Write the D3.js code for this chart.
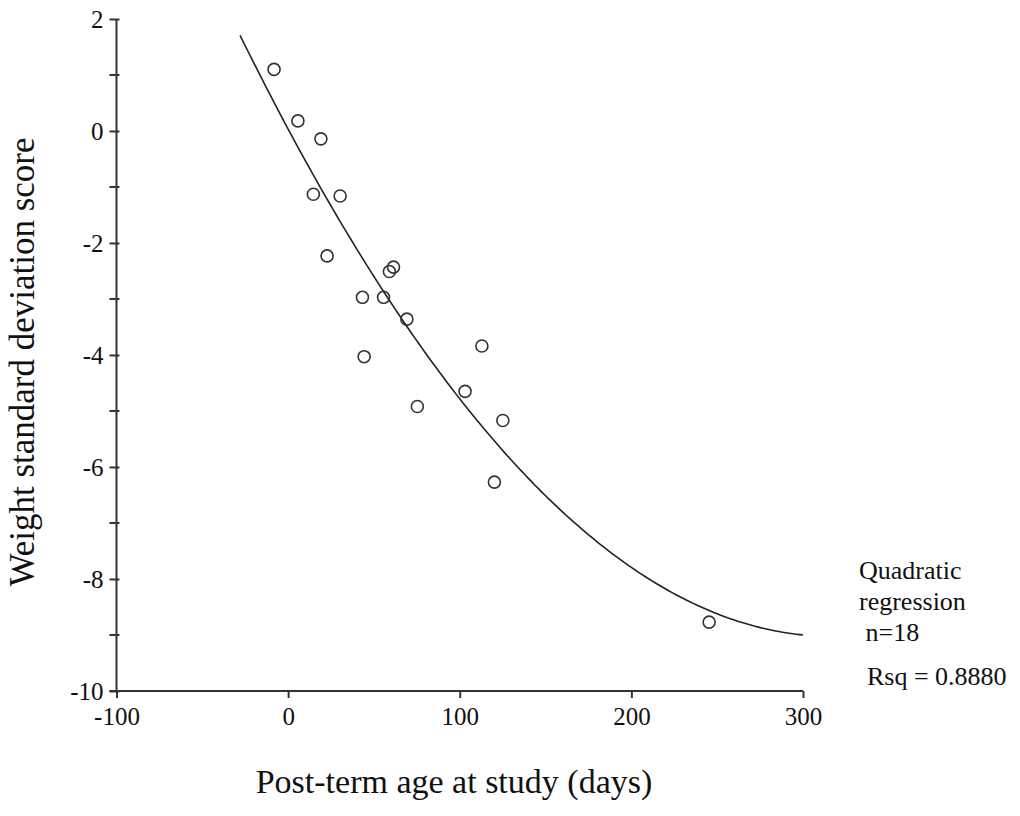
<!DOCTYPE html>
<html>
<head>
<meta charset="utf-8">
<script src="https://cdn.jsdelivr.net/npm/d3@7/dist/d3.min.js"></script>
<style>
  html, body { margin: 0; padding: 0; background: #fff; }
</style>
</head>
<body>
<div id="chart"></div>
<script>
// post-term age (days) and weight SD score
const ageDays = [-8.2, 5.7, 19.1, 14.7, 30.3, 22.7, 59.0, 61.4, 43.3, 55.6, 69.2, 44.3, 75.3, 103.1, 112.9, 125.1, 120.2, 245.3];
const weightSds = [1.10, 0.18, -0.14, -1.13, -1.16, -2.23, -2.51, -2.43, -2.97, -2.97, -3.36, -4.03, -4.92, -4.65, -3.84, -5.17, -6.27, -8.77];

const xTicks = [-100, 0, 100, 200, 300];
const yTicks = [2, 0, -2, -4, -6, -8, -10];
const yMinorTicks = [1, -1, -3, -5, -7, -9];

const curveRange = [-28, 300];
const noteLines = ['Quadratic', 'regression', ' n=18'];
const rsqLabel = 'Rsq = 0.8880';

const width = 1020, height = 816;
const margin = { top: 19, right: 217, bottom: 125, left: 116.5 };
const serif = '"Liberation Serif", "Times New Roman", Times, serif';

const svg = d3.select('#chart').append('svg')
  .attr('width', width)
  .attr('height', height)
  .style('font-family', serif);

const x = d3.scaleLinear().domain([-100, 300]).range([margin.left, width - margin.right]);
const y = d3.scaleLinear().domain([-10, 2]).range([height - margin.bottom, margin.top]);

// least squares quadratic fit of the points
function quadFit(xs, ys) {
  let s = [0, 0, 0, 0, 0], t = [0, 0, 0];
  xs.forEach((xv, i) => {
    for (let k = 0; k < 5; k++) s[k] += Math.pow(xv, k);
    for (let k = 0; k < 3; k++) t[k] += Math.pow(xv, k) * ys[i];
  });
  const m = [[s[0], s[1], s[2], t[0]], [s[1], s[2], s[3], t[1]], [s[2], s[3], s[4], t[2]]];
  for (let i = 0; i < 3; i++) {
    for (let j = i + 1; j < 3; j++) {
      const f = m[j][i] / m[i][i];
      for (let k = i; k < 4; k++) m[j][k] -= f * m[i][k];
    }
  }
  const c = [0, 0, 0];
  for (let i = 2; i >= 0; i--) {
    let v = m[i][3];
    for (let k = i + 1; k < 3; k++) v -= m[i][k] * c[k];
    c[i] = v / m[i][i];
  }
  return c;
}

const coef = quadFit(ageDays, weightSds);
const curvePts = d3.range(curveRange[0], curveRange[1] + 0.5, 2)
  .map(a => [a, coef[0] + coef[1] * a + coef[2] * a * a]);

const axisColor = '#333';
const fmt = d => String(d);  // plain hyphen, not the unicode minus

// y axis
const yAxis = svg.append('g')
  .attr('transform', `translate(${x(-100)},0)`)
  .call(d3.axisLeft(y).tickValues(yTicks).tickSize(7).tickPadding(6).tickFormat(fmt));
yAxis.select('.domain').attr('d', `M0,${y(2)}V${y(-10)}`);
yAxis.selectAll('line').attr('x2', -7).attr('x1', 3);
svg.append('g')
  .selectAll('line')
  .data(yMinorTicks)
  .join('line')
  .attr('x1', x(-100) - 7)
  .attr('x2', x(-100) + 3)
  .attr('y1', d => y(d))
  .attr('y2', d => y(d));

// x axis
const xAxis = svg.append('g')
  .attr('transform', `translate(0,${y(-10)})`)
  .call(d3.axisBottom(x).tickValues(xTicks).tickSize(7).tickPadding(9).tickFormat(fmt));
xAxis.select('.domain').attr('d', `M${x(-100) - 7},0H${x(300)}`);

svg.selectAll('.domain, .tick line, g > line')
  .attr('stroke', axisColor)
  .attr('stroke-width', 2);
svg.selectAll('.tick text')
  .attr('font-size', 25);

// regression curve
svg.append('path')
  .datum(curvePts)
  .attr('fill', 'none')
  .attr('stroke', '#222')
  .attr('stroke-width', 1.6)
  .attr('d', d3.line().x(d => x(d[0])).y(d => y(d[1])));

// points
svg.append('g')
  .selectAll('circle')
  .data(ageDays.map((a, i) => [a, weightSds[i]]))
  .join('circle')
  .attr('cx', d => x(d[0]))
  .attr('cy', d => y(d[1]))
  .attr('r', 6)
  .attr('fill', 'none')
  .attr('stroke', '#333')
  .attr('stroke-width', 1.6);

// axis titles
svg.append('text')
  .attr('x', 454)
  .attr('y', 793)
  .attr('text-anchor', 'middle')
  .attr('font-size', 34)
  .text('Post-term age at study (days)');

svg.append('text')
  .attr('transform', 'translate(34,362) rotate(-90)')
  .attr('text-anchor', 'middle')
  .attr('font-size', 35)
  .text('Weight standard deviation score');

// fit annotation
svg.append('g')
  .selectAll('text')
  .data(noteLines)
  .join('text')
  .attr('x', 859)
  .attr('y', (d, i) => 579 + i * 31)
  .attr('font-size', 26)
  .attr('xml:space', 'preserve')
  .style('white-space', 'pre')
  .text(d => d);

svg.append('text')
  .attr('x', 867)
  .attr('y', 685)
  .attr('font-size', 26)
  .text(rsqLabel);

// force the serif face everywhere, axis groups set their own family
svg.selectAll('text')
  .style('font-family', serif)
  .attr('fill', '#111');
</script>
</body>
</html>
